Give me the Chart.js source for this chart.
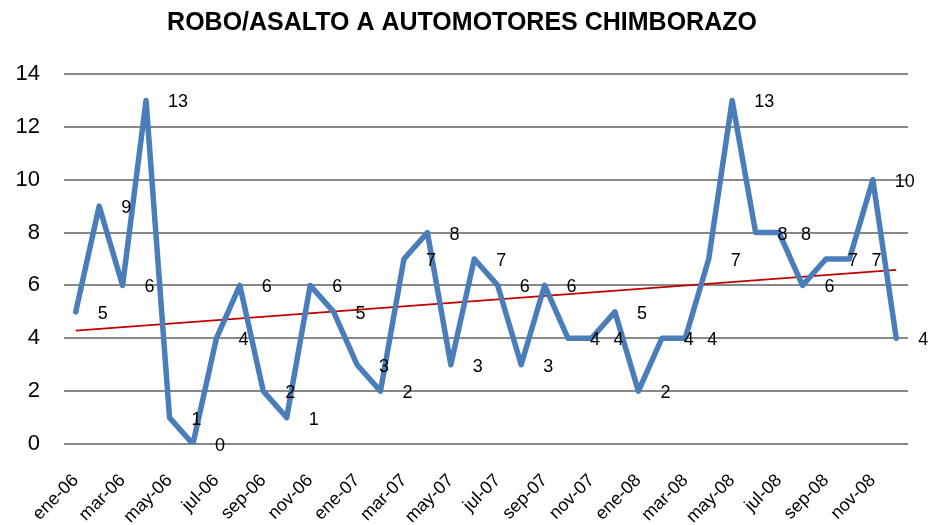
<!DOCTYPE html>
<html>
<head>
<meta charset="utf-8">
<script src="https://cdn.jsdelivr.net/npm/chart.js@4/dist/chart.umd.min.js"></script>
<style>
  html, body { margin: 0; padding: 0; background: #fff; }
  #wrap { width: 938px; height: 525px; }
</style>
</head>
<body>
<div id="wrap"><canvas id="c" width="938" height="525"></canvas></div>
<script>
const months = [
  'ene-06','feb-06','mar-06','abr-06','may-06','jun-06','jul-06','ago-06','sep-06','oct-06','nov-06','dic-06',
  'ene-07','feb-07','mar-07','abr-07','may-07','jun-07','jul-07','ago-07','sep-07','oct-07','nov-07','dic-07',
  'ene-08','feb-08','mar-08','abr-08','may-08','jun-08','jul-08','ago-08','sep-08','oct-08','nov-08','dic-08'
];
const robos = [
  5, 9, 6, 13, 1, 0, 4, 6, 2, 1, 6, 5,
  3, 2, 7, 8, 3, 7, 6, 3, 6, 4, 4, 5,
  2, 4, 4, 7, 13, 8, 8, 6, 7, 7, 10, 4
];
// linear trend line endpoints
const trendStart = 4.29;
const trendEnd = 6.59;
const yTicks = [0, 2, 4, 6, 8, 10, 12, 14];
const chartTitle = 'ROBO/ASALTO A AUTOMOTORES CHIMBORAZO';

const trend = months.map((m, i) => i === 0 ? trendStart : (i === months.length - 1 ? trendEnd : null));

const FONT = "'Liberation Sans', Arial, sans-serif";

const labelPlugin = {
  id: 'valueLabels',
  afterDatasetsDraw(chart) {
    const meta = chart.getDatasetMeta(0);
    const ctx = chart.ctx;
    ctx.save();
    ctx.font = '18px ' + FONT;
    ctx.fillStyle = '#000';
    ctx.textAlign = 'left';
    ctx.textBaseline = 'middle';
    meta.data.forEach((pt, i) => {
      ctx.fillText(String(robos[i]), pt.x + 22, pt.y + 2);
    });
    ctx.restore();
  }
};

new Chart(document.getElementById('c'), {
  type: 'line',
  data: {
    labels: months,
    datasets: [
      {
        data: robos,
        borderColor: '#4A7EBB',
        borderWidth: 5.5,
        pointRadius: 0,
        tension: 0,
        fill: false,
        borderJoinStyle: 'round',
        borderCapStyle: 'round'
      },
      {
        data: trend,
        borderColor: '#C00000',
        borderWidth: 1.6,
        pointRadius: 0,
        tension: 0,
        fill: false,
        spanGaps: true
      }
    ]
  },
  options: {
    responsive: false,
    animation: false,
    layout: { padding: { left: 16, right: 30, top: 0, bottom: 0 } },
    plugins: {
      legend: { display: false },
      tooltip: { enabled: false },
      title: {
        display: true,
        text: chartTitle,
        color: '#000',
        font: { family: FONT, size: 25, weight: 'bold' },
        padding: { top: 8, bottom: 36 }
      }
    },
    scales: {
      x: {
        offset: true,
        grid: { display: false, drawTicks: false },
        border: { display: false },
        ticks: {
          autoSkip: false,
          minRotation: 45,
          maxRotation: 45,
          padding: 26,
          color: '#000',
          font: { family: FONT, size: 18 },
          callback: function (v, i) { return i % 2 === 0 ? months[i] : ''; }
        },
        afterFit(scale) { scale.height = 81; }
      },
      y: {
        min: 0,
        max: 14,
        afterBuildTicks(scale) { scale.ticks = yTicks.map(v => ({ value: v })); },
        grid: { color: '#888888', lineWidth: 2, drawTicks: false },
        border: { display: false },
        ticks: {
          padding: 24,
          color: '#000',
          font: { family: FONT, size: 22 }
        },
        afterFit(scale) { scale.width = 48; }
      }
    }
  },
  plugins: [labelPlugin]
});
</script>
</body>
</html>
